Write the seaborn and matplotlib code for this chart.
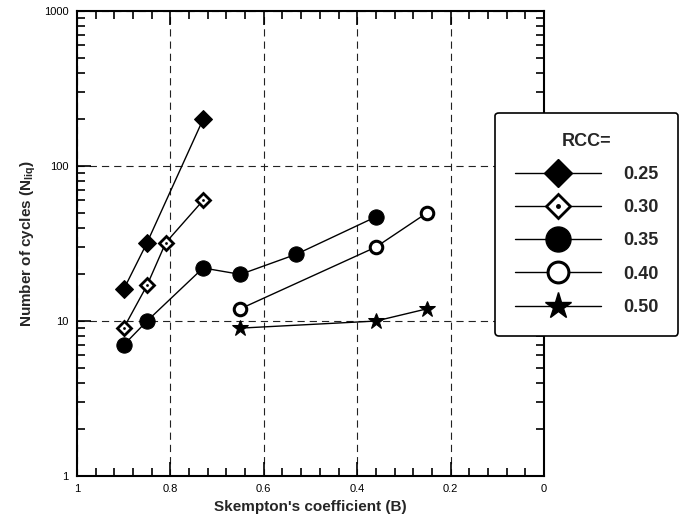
import matplotlib
matplotlib.use("Agg")
import matplotlib.pyplot as plt
import matplotlib.ticker as ticker
from matplotlib.legend_handler import HandlerTuple
import pandas as pd
import seaborn as sns

# data (B vs number of cycles to liquefaction)
b_025 = [0.90, 0.85, 0.73]
n_025 = [16, 32, 200]
b_030 = [0.90, 0.85, 0.81, 0.73]
n_030 = [9, 17, 32, 60]
b_035 = [0.90, 0.85, 0.73, 0.65, 0.53, 0.36]
n_035 = [7, 10, 22, 20, 27, 47]
b_040 = [0.65, 0.36, 0.25]
n_040 = [12, 30, 50]
b_050 = [0.65, 0.36, 0.25]
n_050 = [9, 10, 12]
rcc_labels = ["0.25", "0.30", "0.35", "0.40", "0.50"]

sns.set_style("ticks")
plt.rcParams['font.family'] = ['Liberation Sans', 'DejaVu Sans']
plt.rcParams['mathtext.fontset'] = 'custom'
plt.rcParams['mathtext.bf'] = 'Liberation Sans:bold'
plt.rcParams['mathtext.rm'] = 'Liberation Sans'

fig = plt.figure(figsize=(6.83, 5.26), dpi=100)
ax = fig.add_axes([0.1127, 0.095, 0.6838, 0.884])

# marker style, size on plot, size in legend
series = [
    (b_025, n_025, dict(marker='D', markerfacecolor='black', markeredgecolor='black'), 9, 14),
    (b_030, n_030, dict(marker='D', markerfacecolor='white', markeredgecolor='black', markeredgewidth=2), 7.5, 12),
    (b_035, n_035, dict(marker='o', markerfacecolor='black', markeredgecolor='black'), 11, 18),
    (b_040, n_040, dict(marker='o', markerfacecolor='white', markeredgecolor='black', markeredgewidth=2.2), 9, 15),
    (b_050, n_050, dict(marker='*', markerfacecolor='black', markeredgecolor='black'), 12, 20),
]

handles = []
for i, (bx, ny, style, ms, ms_leg) in enumerate(series):
    df = pd.DataFrame({'B': bx, 'N': ny})
    sns.lineplot(data=df, x='B', y='N', ax=ax, color='black', linewidth=1,
                 sort=False, zorder=3, markersize=ms, **style)
    h = plt.Line2D([], [], color='black', linewidth=1, markersize=ms_leg, **style)
    if i == 1:
        # small centre dot inside the open diamonds
        sns.scatterplot(data=df, x='B', y='N', ax=ax, color='black', s=4,
                        marker='o', linewidth=0, zorder=4)
        dot = plt.Line2D([], [], linestyle='none', marker='o', markersize=2.5, color='black')
        handles.append((h, dot))
    else:
        handles.append(h)

ax.set_yscale('log')
ax.set_xlim(1, 0)
ax.set_ylim(1, 1000)

ax.xaxis.set_major_locator(ticker.MultipleLocator(0.2))
ax.xaxis.set_minor_locator(ticker.MultipleLocator(0.04))
ax.xaxis.set_major_formatter(ticker.FuncFormatter(lambda v, p: f"{v:g}"))
ax.yaxis.set_major_locator(ticker.FixedLocator([1, 10, 100, 1000]))
ax.yaxis.set_minor_locator(ticker.LogLocator(base=10, subs=range(2, 10)))
ax.yaxis.set_major_formatter(ticker.FuncFormatter(lambda v, p: f"{v:g}"))
ax.yaxis.set_minor_formatter(ticker.NullFormatter())

ax.tick_params(which='both', direction='in', top=True, right=True,
               colors='black', labelsize=8, width=1.2)
ax.tick_params(which='major', length=10, pad=6)
ax.tick_params(which='minor', length=6)
for s in ax.spines.values():
    s.set_linewidth(1.5)
    s.set_color('black')

ax.grid(True, which='major', linestyle=(0, (6.5, 4.5)), color='#222222', linewidth=0.8)

ax.set_xlabel("Skempton's coefficient (B)", fontsize=11, fontweight='bold')
ax.set_ylabel(r"Number of cycles (N$_{\mathbf{liq}}$)", fontsize=11, fontweight='bold')

leg = ax.legend(handles, rcc_labels, title='RCC=', loc='upper left',
                bbox_to_anchor=(0.895, 0.781), borderaxespad=0, frameon=True,
                fancybox=True, handlelength=4.8, handletextpad=1.2,
                labelspacing=0.9, borderpad=1.1, framealpha=1,
                prop={'size': 13, 'weight': 'bold'},
                handler_map={tuple: HandlerTuple(ndivide=1, pad=0)})
leg.get_title().set_fontsize(13)
leg.get_title().set_fontweight('bold')
leg.get_frame().set_edgecolor('black')
leg.get_frame().set_linewidth(1.2)
leg.set_zorder(10)

fig.savefig('out.png', dpi=100)
